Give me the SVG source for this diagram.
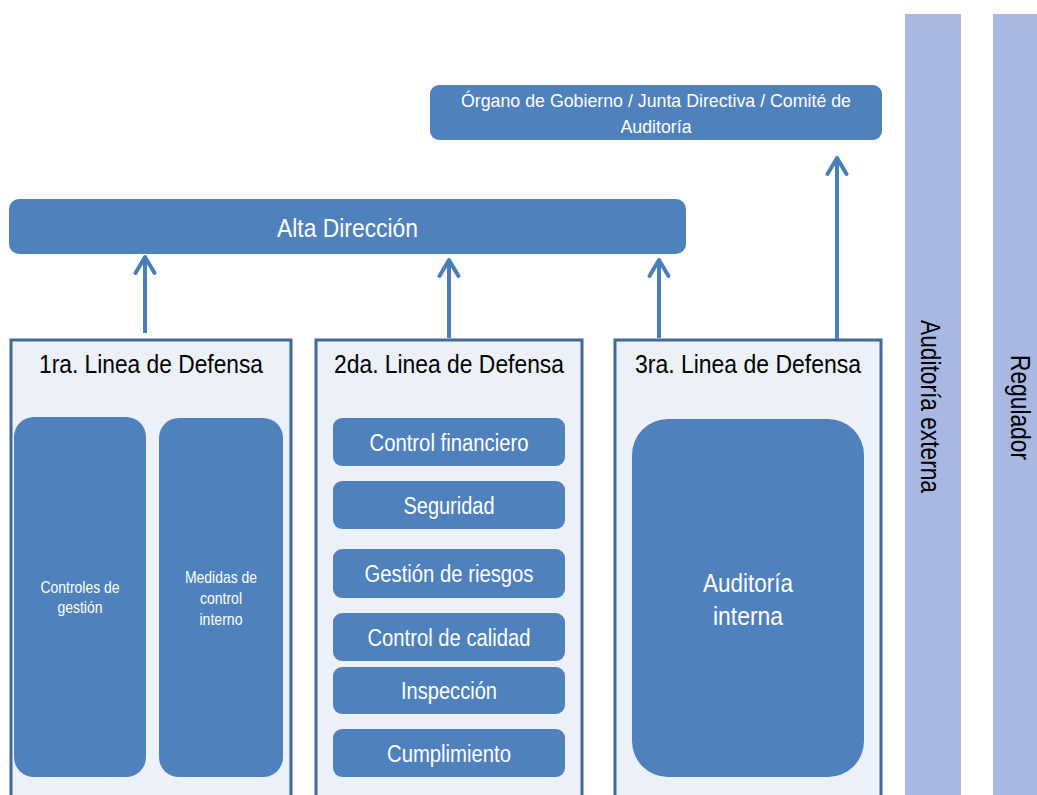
<svg xmlns="http://www.w3.org/2000/svg" width="1037" height="795" viewBox="0 0 1037 795">
<style>
text{font-family:"Liberation Sans",Arial,sans-serif;text-anchor:middle;}
.node{fill:#4f81bd;}
.lbl{fill:#ffffff;}
.line{fill:#ecf0f8;stroke:#41699c;stroke-width:3;}
.ttl{fill:#000000;font-size:25px;}
.bar{fill:#a8b8e2;}
.vt{fill:#000000;font-size:27px;}
.conn{stroke:#4a7ebb;stroke-width:4;fill:none;marker-end:url(#ah);}
</style>
<defs>
<marker id="ah" markerUnits="userSpaceOnUse" markerWidth="40" markerHeight="40" refX="20" refY="20" orient="auto" overflow="visible">
<path d="M4,10.5 L20,20 L4,29.5" fill="none" stroke="#4a7ebb" stroke-width="4" stroke-linecap="round" stroke-linejoin="round"/>
</marker>
</defs>
<rect width="1037" height="795" fill="#ffffff"/>

<g id="auditoria-externa">
<rect class="bar" x="905" y="14" width="56" height="790"/>
<text class="vt" transform="translate(930,406.5) rotate(90)" x="0" y="9" textLength="173" lengthAdjust="spacingAndGlyphs">Auditoría externa</text>
</g>
<g id="regulador">
<rect class="bar" x="993" y="14" width="50" height="790"/>
<text class="vt" transform="translate(1019.5,407.5) rotate(90)" x="0" y="9" textLength="105" lengthAdjust="spacingAndGlyphs">Regulador</text>
</g>

<g id="organo-gobierno">
<rect class="node" x="430" y="85" width="452" height="55" rx="9"/>
<text class="lbl" x="656" y="107" font-size="19" textLength="390" lengthAdjust="spacingAndGlyphs">Órgano de Gobierno / Junta Directiva / Comité de</text>
<text class="lbl" x="656" y="133" font-size="19" textLength="71" lengthAdjust="spacingAndGlyphs">Auditoría</text>
</g>

<g id="alta-direccion">
<rect class="node" x="9" y="199" width="677" height="55" rx="10"/>
<text class="lbl" x="347.5" y="237" font-size="25" textLength="141" lengthAdjust="spacingAndGlyphs">Alta Dirección</text>
</g>

<g id="linea1">
<rect class="line" x="11" y="340" width="280" height="470"/>
<text class="ttl" x="151" y="373" textLength="224" lengthAdjust="spacingAndGlyphs">1ra. Linea de Defensa</text>
</g>
<g id="controles-gestion">
<rect class="node" x="14" y="417" width="132" height="360" rx="20"/>
<text class="lbl" x="80" y="593" font-size="16.5" textLength="79" lengthAdjust="spacingAndGlyphs">Controles de</text>
<text class="lbl" x="80" y="613" font-size="16.5" textLength="45" lengthAdjust="spacingAndGlyphs">gestión</text>
</g>
<g id="medidas-control">
<rect class="node" x="159" y="418" width="124" height="359" rx="20"/>
<text class="lbl" x="221" y="583" font-size="16.5" textLength="72" lengthAdjust="spacingAndGlyphs">Medidas de</text>
<text class="lbl" x="221" y="604" font-size="16.5" textLength="42" lengthAdjust="spacingAndGlyphs">control</text>
<text class="lbl" x="221" y="625" font-size="16.5" textLength="43" lengthAdjust="spacingAndGlyphs">interno</text>
</g>

<g id="linea2">
<rect class="line" x="316" y="340" width="266" height="470"/>
<text class="ttl" x="449" y="373" textLength="230" lengthAdjust="spacingAndGlyphs">2da. Linea de Defensa</text>
</g>
<g id="control-financiero">
<rect class="node" x="333" y="418" width="232" height="48" rx="9"/>
<text class="lbl" x="449" y="451" font-size="23" textLength="159" lengthAdjust="spacingAndGlyphs">Control financiero</text>
</g>
<g id="seguridad">
<rect class="node" x="333" y="481" width="232" height="48" rx="9"/>
<text class="lbl" x="449" y="514" font-size="23" textLength="91" lengthAdjust="spacingAndGlyphs">Seguridad</text>
</g>
<g id="gestion-riesgos">
<rect class="node" x="333" y="549" width="232" height="49" rx="9"/>
<text class="lbl" x="449" y="582" font-size="23" textLength="169" lengthAdjust="spacingAndGlyphs">Gestión de riesgos</text>
</g>
<g id="control-calidad">
<rect class="node" x="333" y="613" width="232" height="48" rx="9"/>
<text class="lbl" x="449" y="646" font-size="23" textLength="163" lengthAdjust="spacingAndGlyphs">Control de calidad</text>
</g>
<g id="inspeccion">
<rect class="node" x="333" y="667" width="232" height="47" rx="9"/>
<text class="lbl" x="449" y="699" font-size="23" textLength="96" lengthAdjust="spacingAndGlyphs">Inspección</text>
</g>
<g id="cumplimiento">
<rect class="node" x="333" y="729" width="232" height="48" rx="9"/>
<text class="lbl" x="449" y="762" font-size="23" textLength="124" lengthAdjust="spacingAndGlyphs">Cumplimiento</text>
</g>

<g id="linea3">
<rect class="line" x="615" y="340" width="266" height="470"/>
<text class="ttl" x="748" y="373" textLength="226" lengthAdjust="spacingAndGlyphs">3ra. Linea de Defensa</text>
</g>
<g id="auditoria-interna">
<rect class="node" x="632" y="419" width="232" height="358" rx="36"/>
<text class="lbl" x="748" y="592" font-size="26" textLength="90" lengthAdjust="spacingAndGlyphs">Auditoría</text>
<text class="lbl" x="748" y="625" font-size="26" textLength="70" lengthAdjust="spacingAndGlyphs">interna</text>
</g>

<g id="connectors">
<line class="conn" x1="145" y1="333" x2="145" y2="257"/>
<line class="conn" x1="449" y1="338" x2="449" y2="260"/>
<line class="conn" x1="659" y1="338" x2="659" y2="260"/>
<line class="conn" x1="837" y1="339" x2="837" y2="158"/>
</g>
</svg>
